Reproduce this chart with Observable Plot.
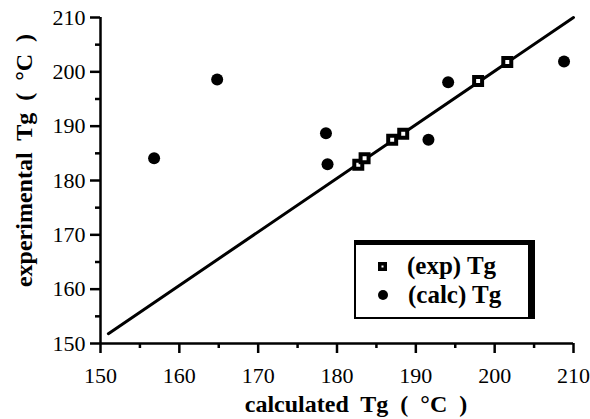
<!DOCTYPE html>
<html>
<head>
<meta charset="utf-8">
<script src="https://cdn.jsdelivr.net/npm/d3@7"></script>
<script src="https://cdn.jsdelivr.net/npm/@observablehq/plot@0.6"></script>
<style>
  html, body { margin: 0; padding: 0; background: #fff; }
  #wrap { position: relative; width: 590px; height: 419px; }
  #wrap svg text { font-family: "Liberation Serif", "Times New Roman", serif; word-spacing: 6px; }
  #legend {
    position: absolute; left: 354px; top: 240px; width: 172px; height: 72px;
    border-left: 2px solid #000; border-bottom: 2px solid #000;
    border-top: 5px solid #000; border-right: 7px solid #000;
    font-family: "Liberation Serif", "Times New Roman", serif; font-weight: bold; font-size: 25px;
    background: #fff;
  }
  .row { position: absolute; left: 0; display: flex; align-items: center; line-height: 28px; }
  .row svg { margin-left: 22px; margin-right: 20px; }
</style>
</head>
<body>
<div id="wrap"></div>
<script>
// ---- data ----
const expX  = [182.7, 183.5, 187.0, 188.4, 197.9, 201.6];
const expY  = [182.9, 184.1, 187.5, 188.6, 198.3, 201.8];
const calcX = [156.8, 164.8, 178.6, 178.8, 191.6, 194.1, 208.8];
const calcY = [184.1, 198.6, 188.7, 183.0, 187.5, 198.1, 201.9];
const lineX = [151, 210];
const lineY = [151.8, 210];
const xDomain = [150, 210];
const yDomain = [150, 210];
const majorTicks = [150, 160, 170, 180, 190, 200, 210];
const minorTicks = [155, 165, 175, 185, 195, 205];
const xTitle = "calculated Tg ( °C )";
const yTitle = "experimental Tg ( °C )";
const legendLabels = ["(exp) Tg", "(calc) Tg"];

const expData = expX.map((x, i) => ({x, y: expY[i]}));
const calcData = calcX.map((x, i) => ({x, y: calcY[i]}));
const lineData = lineX.map((x, i) => ({x, y: lineY[i]}));

const serif = "'Liberation Serif', 'Times New Roman', serif";

const chart = Plot.plot({
  width: 590, height: 419,
  marginLeft: 100, marginRight: 17, marginTop: 17, marginBottom: 76,
  x: {domain: xDomain},
  y: {domain: yDomain},
  style: {fontFamily: serif, fontSize: "22px", color: "#000", background: "#fff"},
  marks: [
    Plot.axisX({ticks: majorTicks, tickSize: 10, strokeWidth: 2.5, text: null, label: null}),
    Plot.axisX({ticks: minorTicks, tickSize: 5, strokeWidth: 2.5, text: null, label: null}),
    Plot.axisY({ticks: majorTicks, tickSize: 10, strokeWidth: 2.5, text: null, label: null}),
    Plot.axisY({ticks: minorTicks, tickSize: 5, strokeWidth: 2.5, text: null, label: null}),
    Plot.text(majorTicks, {x: d => d, text: d => String(d), frameAnchor: "bottom", lineAnchor: "middle", textAnchor: "middle", dy: 32, fontSize: 22}),
    Plot.text(majorTicks, {y: d => d, text: d => String(d), frameAnchor: "left", lineAnchor: "middle", textAnchor: "end", dx: -15, fontSize: 22}),
    Plot.ruleX([xDomain[0]], {strokeWidth: 2.5}),
    Plot.ruleY([yDomain[0]], {strokeWidth: 2.5}),
    Plot.line(lineData, {x: "x", y: "y", stroke: "#000", strokeWidth: 3}),
    Plot.dot(calcData, {x: "x", y: "y", r: 6, fill: "#000", stroke: "none"}),
    Plot.dot(expData, {x: "x", y: "y", symbol: "square", r: 4.5, fill: "#fff", stroke: "#000", strokeWidth: 4}),
    Plot.text([xTitle], {text: d => d, frameAnchor: "bottom", textAnchor: "middle", lineAnchor: "middle", dy: 61, dx: 19, fontWeight: "bold", fontSize: 24}),
    Plot.text([yTitle], {text: d => d, frameAnchor: "left", textAnchor: "middle", lineAnchor: "middle", rotate: -90, dx: -76, dy: -20, fontWeight: "bold", fontSize: 24})
  ]
});

const wrap = document.getElementById("wrap");
wrap.appendChild(chart);

// legend
const legend = document.createElement("div");
legend.id = "legend";
const rows = [
  {label: legendLabels[0], svg: '<svg width="9" height="9"><rect x="0" y="0" width="9" height="9" fill="#000"/><rect x="3.5" y="3.5" width="2" height="2" fill="#fff"/></svg>', top: 7},
  {label: legendLabels[1], svg: '<svg width="10" height="10"><circle cx="5" cy="5" r="5" fill="#000"/></svg>', top: 36}
];
rows.forEach(r => {
  const d = document.createElement("div");
  d.className = "row";
  d.style.top = r.top + "px";
  d.innerHTML = r.svg + '<span>' + r.label + '</span>';
  legend.appendChild(d);
});
wrap.appendChild(legend);
</script>
</body>
</html>
